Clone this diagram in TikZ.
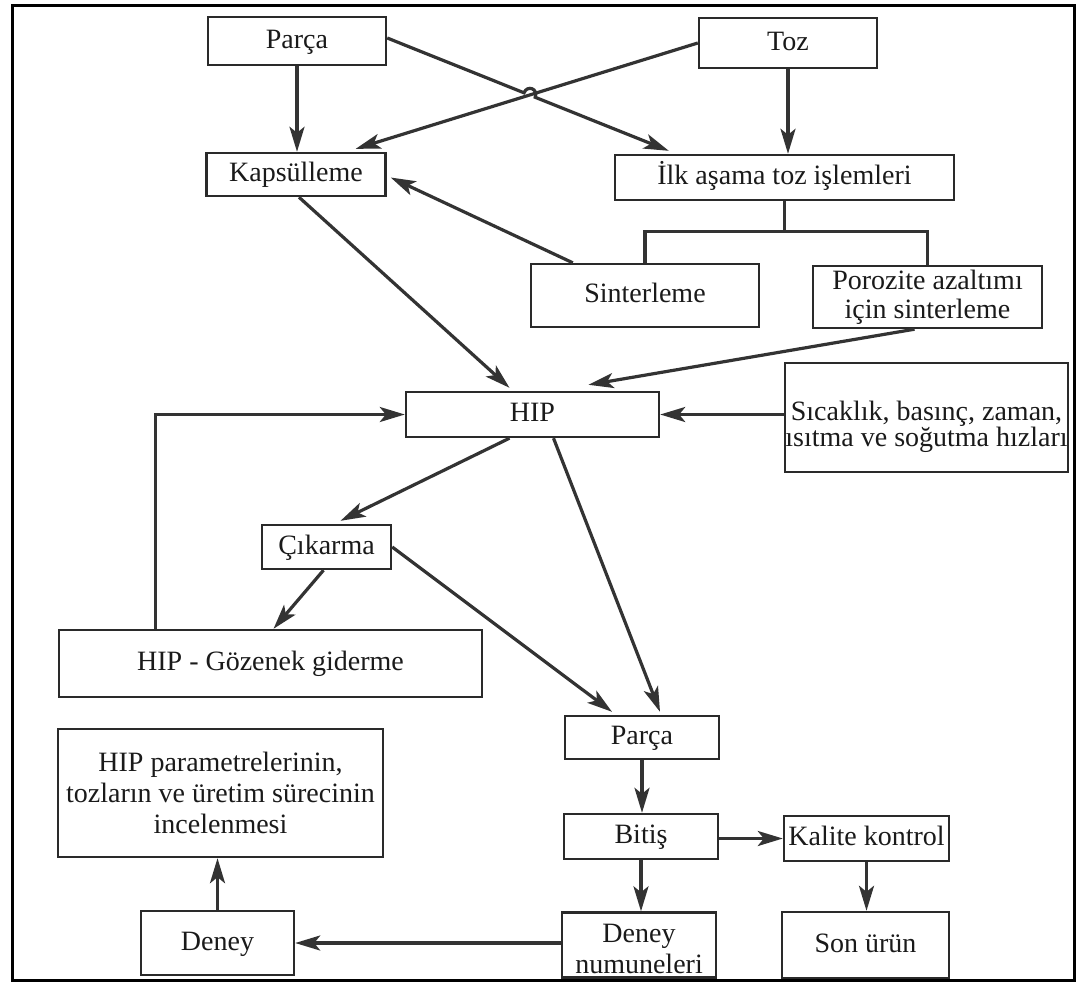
\documentclass[tikz,border=0pt]{standalone}
\usepackage{fontspec}
\setmainfont{Liberation Serif}
\usetikzlibrary{calc,arrows.meta}
\newcommand\mainfs{\fontsize{28}{31}\selectfont}
\definecolor{linec}{HTML}{333333}
\definecolor{boxc}{HTML}{2A2A2A}
\definecolor{txtc}{HTML}{1A1A1A}
\tikzset{
  box/.style={draw=boxc, line width=2.4pt, fill=white, inner sep=0pt, font=\mainfs, text=txtc, align=center},
  one/.style={text height=20pt, text depth=6pt},
  txt/.style={inner sep=0pt, font=\mainfs, text=txtc, align=center},
  conn/.style={draw=linec, line width=3.2pt, -{Stealth[length=25pt,width=15pt,inset=6pt]}},
  plain/.style={draw=linec, line width=3.2pt},
}
\begin{document}
\begin{tikzpicture}[x=1pt,y=-1pt]
\useasboundingbox (0,0) rectangle (1078,983);
\fill[white] (0,0) rectangle (1078,983);
\draw[line width=3pt, black] (12,5) rectangle (1074,980);

% nodes
\node[box, one, minimum width=178pt, minimum height=48pt] (parca1) at (297,41) {Parça};
\node[box, one, minimum width=178pt, minimum height=50pt] (toz) at (788,43) {Toz};
\node[box, one, minimum width=179pt, minimum height=43pt] (kaps) at (296,174.5) {Kapsülleme};
\node[box, one, minimum width=339pt, minimum height=45pt] (ilk) at (784.5,177.5) {İlk aşama toz işlemleri};
\node[box, one, minimum width=228pt, minimum height=63pt] (sinter) at (645,295.5) {Sinterleme};
\node[box, minimum width=229pt, minimum height=62pt] (poroz) at (927.5,297) {Porozite azaltımı\\[-2pt]için sinterleme};
\node[box, one, minimum width=253pt, minimum height=45pt] (hip) at (532.5,414.5) {HIP};
\node[box, minimum width=283pt, minimum height=109pt] (sicak) at (926.5,417.5) {};
\node[txt] at ($(sicak.center)+(0,9)$) {Sıcaklık, basınç, zaman,\\[-5pt]ısıtma ve soğutma hızları};
\node[box, one, minimum width=129pt, minimum height=44pt] (cik) at (326.5,547) {Çıkarma};
\node[box, one, minimum width=423pt, minimum height=67pt] (gozenek) at (270.5,663.5) {HIP - Gözenek giderme};
\node[box, one, minimum width=154pt, minimum height=43pt] (parca2) at (642,737.5) {Parça};
\node[box, minimum width=325pt, minimum height=128pt] (hippar) at (220.5,793) {HIP parametrelerinin,\\tozların ve üretim sürecinin\\incelenmesi};
\node[box, one, minimum width=154pt, minimum height=45pt] (bitis) at (641,836.5) {Bitiş};
\node[box, one, minimum width=165pt, minimum height=45pt] (kalite) at (866.5,838.5) {Kalite kontrol};
\node[box, one, minimum width=153pt, minimum height=64pt] (deney) at (217.5,943) {Deney};
\node[box, minimum width=154pt, minimum height=65pt] (numune) at (639,945) {};
\node[txt] at ($(numune.center)+(0,4)$) {Deney\\numuneleri};
\node[box, one, minimum width=167pt, minimum height=66pt] (sonurun) at (865.5,945) {Son ürün};

% top crossing connectors
\coordinate (cSrc) at ($(parca1.east)+(0,-3)$);
\coordinate (cTgt) at ($(ilk.north west)+(55,-3)$);
\coordinate (dTgt) at ($(kaps.north east)+(-31,-3)$);
\coordinate (hx) at (intersection of cSrc--cTgt and toz.west--dTgt);
\coordinate (h1) at ($(hx)!6pt!(cSrc)$);
\coordinate (h2) at ($(hx)!6pt!(cTgt)$);
\draw[conn] (toz.west) -- (dTgt);
\draw[conn] (cSrc) -- (h1) .. controls ($(h1)!9pt!90:(hx)$) and ($(h2)!9pt!-90:(hx)$) .. (h2) -- (cTgt);

\draw[conn] (parca1.south) -- (parca1.south |- kaps.north);
\draw[conn] (toz.south) -- (toz.south |- ilk.north);

% branch
\coordinate (br) at ($(ilk.south)+(0,30)$);
\draw[plain] (ilk.south) -- (br);
\draw[plain] (sinter.north) |- (br) -| (poroz.north);

\draw[conn] ($(sinter.north west)+(43,0)$) -- ($(kaps.east)+(4,3)$);
\draw[conn] ($(kaps.south)+(3,0)$) -- ($(hip.north)+(-23,-3)$);
\draw[conn] ($(poroz.south)+(-13,0)$) -- ($(hip.north)+(56,-6)$);
\draw[conn] (sicak.west |- hip.east) -- (hip.east);
\draw[conn] ($(gozenek.north west)+(98,0)$) |- (hip.west);

\draw[conn] ($(hip.south)+(-23,0)$) -- ($(cik.north)+(14,-3)$);
\draw[conn] ($(hip.south)+(21,0)$) -- ($(parca2.north)+(18,-3)$);
\draw[conn] (cik.east) -- ($(parca2.north)+(-30,-3)$);
\draw[conn] ($(cik.south)+(-3,0)$) -- ($(gozenek.north)+(3,0)$);

\draw[conn] (parca2.south) -- (parca2.south |- bitis.north);
\draw[conn] (bitis.east |- kalite.west) -- (kalite.west);
\draw[conn] (kalite.south) -- (kalite.south |- sonurun.north);
\draw[conn] (bitis.south) -- (bitis.south |- numune.north);
\draw[conn] (numune.west |- deney.east) -- (deney.east);
\draw[conn] (deney.north) -- (deney.north |- hippar.south);
\end{tikzpicture}
\end{document}
